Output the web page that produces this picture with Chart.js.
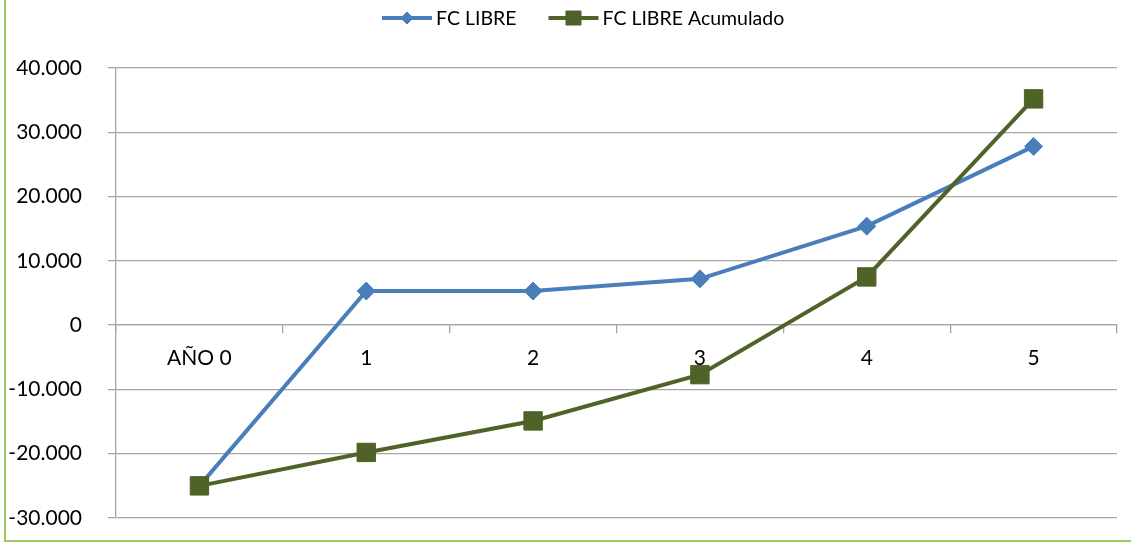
<!DOCTYPE html>
<html>
<head>
<meta charset="utf-8">
<script src="https://cdn.jsdelivr.net/npm/chart.js@4/dist/chart.umd.min.js"></script>
<style>
  html, body { margin: 0; padding: 0; background: #fff; }
  #wrap { width: 1131px; height: 542px; position: relative; }
</style>
</head>
<body>
<div id="wrap"><canvas id="chart" width="1131" height="542"></canvas></div>
<script>
// Years of the projection
const categories = ['AÑO 0', '1', '2', '3', '4', '5'];
// Free cash flow per year
const fcLibre = [-25000, 5300, 5300, 7200, 15400, 27800];
// Accumulated free cash flow
const fcLibreAcumulado = [-25000, -19800, -14900, -7700, 7500, 35200];
// Value axis ticks
const yTicks = [-30000, -20000, -10000, 0, 10000, 20000, 30000, 40000];

const seriesNames = ['FC LIBRE', 'FC LIBRE Acumulado'];
const BLUE = '#4A7EBB';
const GREEN = '#4F6228';
const FONT = 'Lato, "Liberation Sans", Arial, sans-serif';

function formatThousands(v) {
  const neg = v < 0;
  const s = Math.abs(Math.round(v)).toString().replace(/\B(?=(\d{3})+(?!\d))/g, '.');
  return (neg ? '-' : '') + s;
}

// Legend drawn as line + marker, like the series themselves
const legendPlugin = {
  id: 'lineLegend',
  afterDraw(chart) {
    const ctx = chart.ctx;
    ctx.save();
    ctx.font = '19.5px ' + FONT;
    ctx.textBaseline = 'middle';
    const y = 18;
    let x = 382;
    chart.data.datasets.forEach((ds) => {
      ctx.strokeStyle = ds.borderColor;
      ctx.lineWidth = 4;
      ctx.beginPath();
      ctx.moveTo(x, y);
      ctx.lineTo(x + 50, y);
      ctx.stroke();
      ctx.fillStyle = ds.backgroundColor;
      ctx.lineWidth = 1;
      ctx.beginPath();
      if (ds.pointStyle === 'rect') {
        ctx.rect(x + 25 - 7.5, y - 7, 15, 14);
      } else {
        ctx.moveTo(x + 25, y - 6); ctx.lineTo(x + 31, y); ctx.lineTo(x + 25, y + 6); ctx.lineTo(x + 19, y);
        ctx.closePath();
      }
      ctx.fill();
      ctx.stroke();
      ctx.fillStyle = '#000';
      ctx.fillText(ds.label, x + 54, y + 1);
      x += 54 + ctx.measureText(ds.label).width + 32;
    });
    ctx.restore();
  }
};

// Green frame on the left and bottom edges
const framePlugin = {
  id: 'frame',
  beforeDraw(chart) {
    const ctx = chart.ctx;
    ctx.save();
    ctx.strokeStyle = '#9BCB5F';
    ctx.lineWidth = 2;
    ctx.beginPath();
    ctx.moveTo(5, 0);
    ctx.lineTo(5, 541);
    ctx.lineTo(1131, 541);
    ctx.stroke();
    ctx.restore();
  }
};

new Chart(document.getElementById('chart'), {
  type: 'line',
  data: {
    labels: categories,
    datasets: [
      {
        label: seriesNames[0],
        data: fcLibre,
        borderColor: BLUE,
        backgroundColor: BLUE,
        borderWidth: 4,
        pointStyle: 'rectRot',
        pointRadius: 9,
        pointBorderWidth: 1,
        tension: 0,
        order: 2
      },
      {
        label: seriesNames[1],
        data: fcLibreAcumulado,
        borderColor: GREEN,
        backgroundColor: GREEN,
        borderWidth: 4,
        pointStyle: 'rect',
        pointRadius: 13,
        pointBorderWidth: 1,
        tension: 0,
        order: 1
      }
    ]
  },
  options: {
    responsive: false,
    animation: false,
    layout: { padding: { top: 68, right: 10, bottom: 24, left: 0 } },
    plugins: {
      legend: { display: false },
      tooltip: { enabled: false }
    },
    scales: {
      x: {
        type: 'category',
        offset: true,
        position: { y: 0 },
        afterFit(scale) { scale.height = 0; },
        grid: {
          display: true,
          drawOnChartArea: false,
          drawTicks: true,
          tickLength: 8,
          color: '#A6A6A6',
          lineWidth: 1.3,
          offset: true
        },
        border: { display: true, color: '#A6A6A6', width: 1.3 },
        ticks: {
          color: '#000',
          padding: 12,
          maxRotation: 0,
          autoSkip: false,
          font: { family: FONT, size: 21 }
        }
      },
      y: {
        min: yTicks[0],
        max: yTicks[yTicks.length - 1],
        afterFit(scale) {
          scale.width = 116;
          scale.paddingTop = 0;
          scale.paddingBottom = 0;
        },
        afterBuildTicks(scale) { scale.ticks = yTicks.map(v => ({ value: v })); },
        grid: {
          color: '#A6A6A6',
          lineWidth: 1.3,
          drawTicks: true,
          tickLength: 8
        },
        border: { display: true, color: '#A6A6A6', width: 1.3 },
        ticks: {
          color: '#000',
          padding: 26,
          font: { family: FONT, size: 21 },
          callback: v => formatThousands(v)
        }
      }
    }
  },
  plugins: [framePlugin, legendPlugin]
});
</script>
</body>
</html>
